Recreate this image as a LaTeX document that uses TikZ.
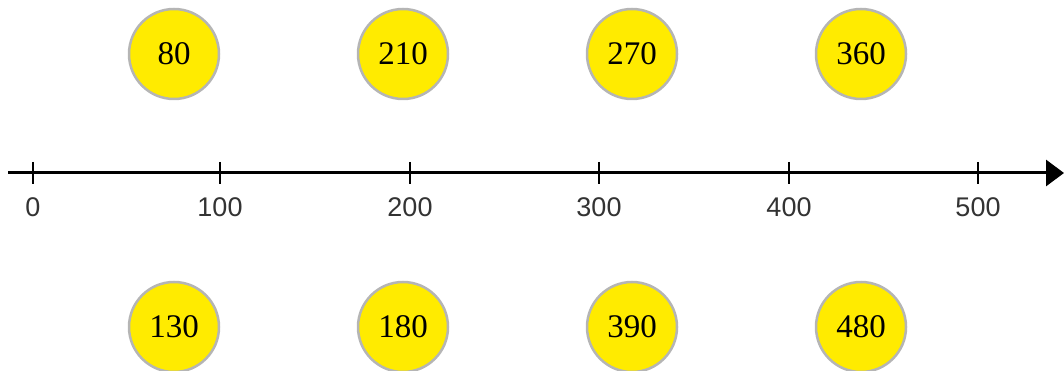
\documentclass[tikz,border=0pt]{standalone}
\usepackage{fontspec}
\setmainfont{Liberation Serif}
\newfontfamily\axisfont{Liberation Sans}
\usetikzlibrary{arrows.meta}
\definecolor{ballyellow}{HTML}{FFEB00}
\definecolor{ballrim}{HTML}{B5B5B5}
\tikzset{
  ball/.style={circle, fill=ballyellow, draw=ballrim, line width=2.5pt, minimum size=90pt, inner sep=0pt, font=\fontsize{33}{33}\selectfont},
  ticklabel/.style={font=\axisfont\fontsize{27}{27}\selectfont, text=black!80, inner sep=0pt},
  axisline/.style={line width=3pt, -{Triangle[length=18pt,width=26pt]}},
  tickline/.style={line width=1.8pt}
}
\begin{document}
\begin{tikzpicture}[x=1pt,y=-1pt]
\useasboundingbox (0,0) rectangle (1064,371);
\coordinate (start) at (8,173);
\coordinate (end) at (1064,173);
\draw[axisline] (start) -- (end);
\foreach \v/\x in {0/33,100/220,200/410,300/599,400/789,500/978}{
  \coordinate (t\v) at (\x,173);
  \draw[tickline] (\x,162) -- (\x,184);
  \node[ticklabel] (l\v) at (\x,207) {\v};
}
\node[ball] (b80) at (174,54) {80};
\node[ball] (b210) at (403,54) {210};
\node[ball] (b270) at (632,54) {270};
\node[ball] (b360) at (861,54) {360};
\node[ball] (b130) at (174,327) {130};
\node[ball] (b180) at (403,327) {180};
\node[ball] (b390) at (632,327) {390};
\node[ball] (b480) at (861,327) {480};
\end{tikzpicture}
\end{document}
